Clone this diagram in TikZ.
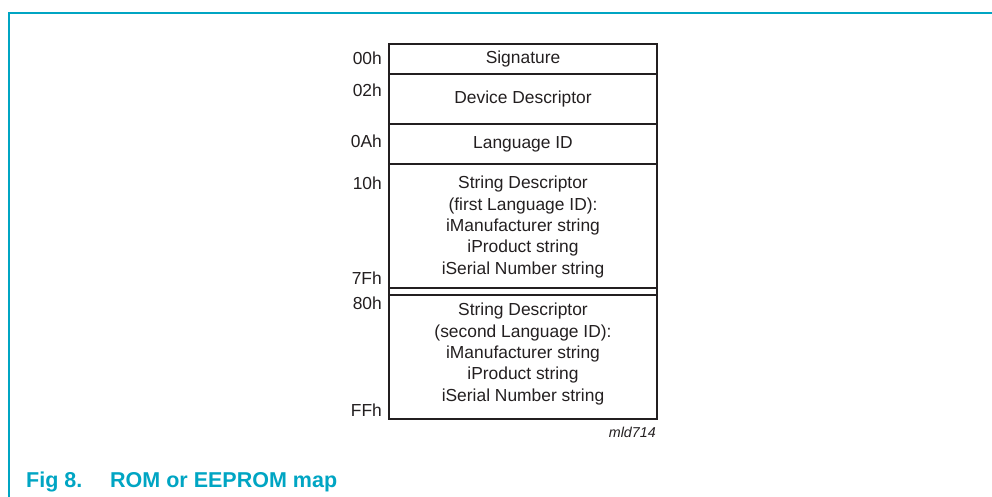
\documentclass[tikz,border=0pt]{standalone}
\usepackage{fontspec}
\setmainfont{Liberation Sans}
\definecolor{ink}{HTML}{231F20}
\definecolor{nxpcyan}{RGB}{0,165,195}
\begin{document}
\begin{tikzpicture}[x=1pt,y=-1pt,
  cell/.style={draw=ink, line width=2pt, minimum width=268pt, inner sep=0pt, outer sep=0pt,
    anchor=north west},
  txt/.style={align=center, inner sep=0pt, text=ink, font=\fontsize{17.4}{21.3}\selectfont},
  lbl/.style={anchor=east, inner sep=0pt, text=ink, font=\fontsize{17.4}{20}\selectfont},
  frame/.style={draw=nxpcyan, line width=2pt},
  capt/.style={anchor=base west, inner sep=0pt, text=nxpcyan, font=\fontsize{21.5}{24}\selectfont\bfseries}]
\useasboundingbox (0,0) rectangle (992,496);
% frame
\coordinate (fb) at (9,497);
\coordinate (fc) at (9,12.5);
\coordinate (fr) at (993,12.5);
\draw[frame] (fb) -- (fc) -- (fr);
% cells
\node[cell, minimum height=30pt] (sig) at (389,44) {};
\node[cell, minimum height=50pt] (dev) at (sig.south west) {};
\node[cell, minimum height=40pt] (lang) at (dev.south west) {};
\node[cell, minimum height=124pt] (str1) at (lang.south west) {};
\node[cell, minimum height=124pt] (str2) at (389,295) {};
\draw[draw=ink, line width=2pt] (str1.south west) -- (str2.north west);
\draw[draw=ink, line width=2pt] (str1.south east) -- (str2.north east);
% cell texts
\node[txt] (tsig) at (sig.center) {Signature};
\node[txt] (tdev) at (dev.center) {Device Descriptor};
\node[txt] (tlang) at (lang.center) {Language ID};
\node[txt, yshift=-1pt] (tstr1) at (str1.center) {String Descriptor\\(first Language ID):\\iManufacturer string\\iProduct string\\iSerial Number string};
\node[txt, yshift=3pt] (tstr2) at (str2.center) {String Descriptor\\(second Language ID):\\iManufacturer string\\iProduct string\\iSerial Number string};
% labels
\node[lbl] (l00) at (382,58.5) {00h};
\node[lbl] (l02) at (382,90) {02h};
\node[lbl] (l0A) at (382,141) {0Ah};
\node[lbl] (l10) at (382,183) {10h};
\node[lbl] (l7F) at (382,278) {7Fh};
\node[lbl] (l80) at (382,303) {80h};
\node[lbl] (lFF) at (382,410) {FFh};
\node[anchor=base east, inner sep=0pt, text=ink, font=\fontsize{14.3}{16}\selectfont\itshape] (mld) at (656,437) {mld714};
% caption
\node[capt] (cap1) at (26,487) {Fig 8.};
\node[capt] (cap2) at (110,487) {ROM or EEPROM map};
\end{tikzpicture}
\end{document}
